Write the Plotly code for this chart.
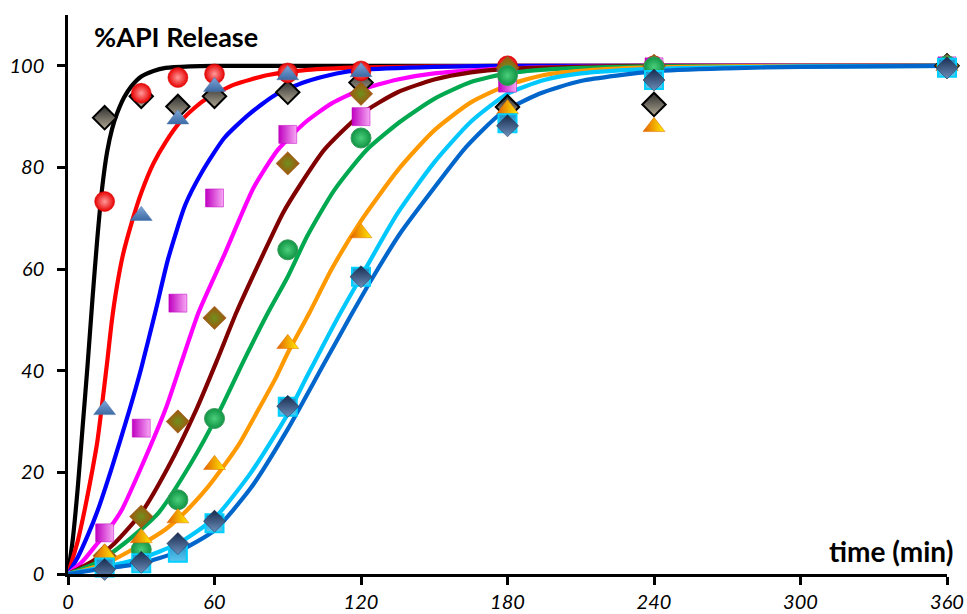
import plotly.graph_objects as go

# ---- measured release (% API) at sampling times ----
t_obs = [15, 30, 45, 60, 90, 120, 180, 240, 360]

obs_black = [89.8, 94.0, 92.0, 94.0, 94.8, 96.7, 91.9, 92.4, 100.0]
obs_red = [73.3, 94.6, 97.7, 98.4, 98.6, 99.0, 100.0, 100.0, 100.0]
obs_blue = [32.3, 70.5, 89.5, 95.9, 98.2, 98.8, 100.0, 100.0, 100.0]
obs_magenta = [8.1, 28.7, 53.3, 74.0, 86.5, 90.0, 96.6, 99.8, 100.0]
obs_olive = [3.6, 11.3, 30.0, 50.4, 80.8, 94.5, 99.6, 100.0, 100.0]
obs_green = [2.6, 4.8, 14.6, 30.6, 63.8, 85.8, 98.1, 99.8, 100.0]
obs_orange = [4.1, 7.1, 11.0, 21.5, 45.3, 67.1, 91.5, 88.0, 100.0]
obs_cyan = [1.3, 2.1, 4.2, 10.0, 32.9, 58.5, 88.7, 97.2, 99.6]
obs_navy = [0.9, 2.3, 6.0, 10.4, 33.0, 58.5, 88.2, 97.2, 99.6]

# ---- fitted release profiles ----
fit_black_t = [0, 2, 4, 6, 8, 10, 12, 14, 16, 18, 20, 23, 26, 30, 35, 40, 50, 60, 360]
fit_black_v = [0, 7, 17, 29, 41, 54, 66, 76, 83, 87.5, 90.5, 93.8, 96, 97.9, 99, 99.6, 99.9, 100, 100]

fit_red_t = [0, 4, 7, 10, 12, 14, 16, 18, 20, 22.5, 26, 30, 35, 40, 46, 52, 57, 68, 82, 98, 120, 150, 180, 360]
fit_red_v = [0, 6.5, 13, 20.5, 26, 33.5, 41.5, 50, 56.5, 62.8, 69, 75, 80.8, 85, 89, 91.8, 93.6, 96.3, 98.2, 99.2, 99.7, 99.9, 100, 100]

fit_blue_t = [0, 4, 8, 12, 18, 25, 30, 36, 41, 48, 55, 64, 74, 85, 97, 110, 120, 150, 180, 360]
fit_blue_v = [0, 3.3, 7.5, 12.3, 21, 32, 40.5, 52, 62, 72.6, 79.2, 85.8, 90.4, 94.3, 96.8, 98.5, 99.2, 99.8, 100, 100]

fit_magenta_t = [0, 6, 12, 17, 22, 30, 40, 46, 53.5, 64, 76, 86, 97, 108, 120, 135, 150, 180, 240, 360]
fit_magenta_v = [0, 2.5, 6, 9, 12.6, 21, 32.5, 41, 51.5, 62.8, 76, 83.5, 88.8, 92.6, 95.3, 97.3, 98.5, 99.5, 100, 100]

fit_maroon_t = [0, 10, 19, 30, 41, 52.5, 61, 69, 80, 88, 95, 105, 120, 135, 150, 165, 180, 210, 240, 360]
fit_maroon_v = [0, 2.5, 6, 12, 21, 32.3, 42, 51.5, 63, 71, 76.5, 83.5, 90.5, 94.8, 97.3, 98.7, 99.4, 99.8, 100, 100]

fit_green_t = [0, 12, 23, 37, 50, 62, 72, 82, 90, 98, 109, 122, 136, 150, 165, 180, 200, 240, 360]
fit_green_v = [0, 2.3, 6, 12, 21.5, 32, 42, 51.5, 58.5, 66.5, 75.5, 83.3, 89, 93.5, 96.8, 98.5, 99.4, 99.9, 100]

fit_orange_t = [0, 15, 30, 40, 48, 55, 60, 70, 77, 85, 90, 99, 108, 120, 136, 150, 165, 180, 195, 215, 240, 300, 360]
fit_orange_v = [0, 2, 5.8, 8.8, 12.2, 15.8, 18.8, 25.5, 31.5, 38.5, 43.5, 51.5, 60, 69.5, 80, 87.3, 92.8, 96.2, 98.2, 99.2, 99.7, 100, 100]

fit_cyan_t = [0, 15, 30, 45, 60, 75, 90, 98, 110, 120, 135, 150, 165, 180, 195, 210, 240, 300, 360]
fit_cyan_v = [0, 1.4, 3.1, 6, 11, 20, 31.5, 39, 50, 58.5, 71, 81, 89, 94.5, 97.2, 98.5, 99.4, 99.9, 100]

fit_dblue_t = [0, 15, 30, 45, 60, 75, 90, 105, 116, 125, 136, 150, 163, 177, 193, 210, 240, 270, 300, 360]
fit_dblue_v = [0, 1.1, 2.1, 4.4, 8.6, 17, 28.5, 41.5, 51, 58.5, 67, 76, 84, 90.5, 94.5, 97, 98.9, 99.5, 99.8, 100]

x_ticks = [0, 60, 120, 180, 240, 300, 360]
y_ticks = [0, 20, 40, 60, 80, 100]

FONT = "Lato"

fig = go.Figure()

fits = [
    (fit_black_t, fit_black_v, "#000000"),
    (fit_red_t, fit_red_v, "#ff0000"),
    (fit_blue_t, fit_blue_v, "#0000ff"),
    (fit_magenta_t, fit_magenta_v, "#ff00ff"),
    (fit_maroon_t, fit_maroon_v, "#800000"),
    (fit_green_t, fit_green_v, "#00a84f"),
    (fit_orange_t, fit_orange_v, "#ff9900"),
    (fit_cyan_t, fit_cyan_v, "#00c8ff"),
    (fit_dblue_t, fit_dblue_v, "#0066cc"),
]
for tx, vy, col in fits:
    fig.add_trace(go.Scatter(
        x=tx, y=vy, mode="lines",
        line=dict(color=col, width=4.2, shape="spline", smoothing=0.6),
        hoverinfo="skip", showlegend=False, cliponaxis=False,
    ))

markers = [
    (obs_black, "diamond", 18, "#2c2c2c", "vertical", "#b0a894", "#000000", 2),
    (obs_red, "circle", 20, "#e80000", "radial", "#ff9a9a", "#d40000", 0.5),
    (obs_blue, "triangle-up", 19, "#7fa6d8", "vertical", "#3c6aa4", "#4a78b0", 0.5),
    (obs_magenta, "square", 18, "#c000c0", "horizontal", "#f7a8f4", "#c000c0", 0.5),
    (obs_olive, "diamond", 18, "#a5520e", "radial", "#6e901c", "#9a4f10", 0.5),
    (obs_green, "circle", 20, "#0f9444", "radial", "#4ccf7c", "#3a9a5a", 1),
    (obs_orange, "triangle-up", 19, "#e25e00", "horizontal", "#fff000", "#e26a00", 0.5),
    (obs_cyan, "square", 18, "#1f8fc8", "vertical", "#5cc6ef", "#00d0ff", 2),
    (obs_navy, "diamond", 17, "#172a4c", "vertical", "#6c8fbc", "#1c2c4c", 0.5),
]
for vals, sym, size, col, gtype, gcol, lcol, lw in markers:
    fig.add_trace(go.Scatter(
        x=t_obs, y=vals, mode="markers",
        marker=dict(symbol=sym, size=size, color=col,
                    gradient=dict(type=gtype, color=gcol),
                    line=dict(color=lcol, width=lw)),
        showlegend=False, cliponaxis=False,
    ))

axis_common = dict(
    showgrid=False, zeroline=False, showline=True, automargin=False,
    linecolor="#000000", linewidth=2.5,
    ticks="outside", ticklen=8, tickwidth=2.5, tickcolor="#000000",
    tickfont=dict(family=FONT, size=20, color="#000000", style="italic"),
)

fig.update_xaxes(range=[0, 360], tickvals=x_ticks, ticktext=[str(v) for v in x_ticks],
                 ticklabelstandoff=0, **axis_common)
fig.update_yaxes(range=[0, 110], tickvals=y_ticks, ticktext=[str(v) for v in y_ticks],
                 ticklabelstandoff=9, **axis_common)

fig.add_annotation(text="<b>%API Release</b>", xref="paper", yref="paper",
                   x=0.027, y=0.961, xanchor="left", yanchor="middle", showarrow=False,
                   font=dict(family=FONT, size=27, color="#000000"))
fig.add_annotation(text="<b>time (min)</b>", xref="paper", yref="paper",
                   x=1.009, y=0.041, xanchor="right", yanchor="middle", showarrow=False,
                   font=dict(family=FONT, size=28, color="#000000"))

fig.update_layout(
    width=967, height=614,
    margin=dict(l=68, r=20, t=15, b=40),
    paper_bgcolor="#ffffff", plot_bgcolor="#ffffff",
)

fig.write_html("out.html")
